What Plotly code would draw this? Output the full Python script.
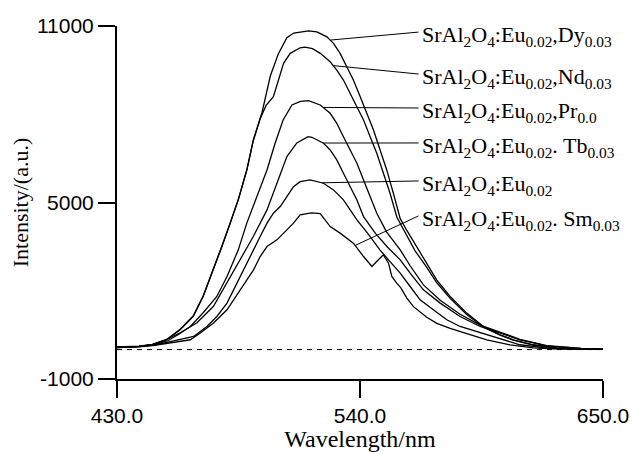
import numpy as np
import plotly.graph_objects as go

# Emission spectra of SrAl2O4:Eu phosphors with different co-dopants
wl_dy = [430, 440, 446, 452.6, 458.6, 464.5, 469.0, 473.6, 477.5, 481.3, 484.9, 488.8, 491.7, 495.6,
         499.4, 503.0, 506.9, 510.0, 513.0, 516.7, 520.5, 525.0, 528.0, 531.0, 534.0, 537.0, 540.1,
         543.1, 546.1, 549.1, 552.1, 555.1, 558.2, 561.2, 565.7, 570.2, 574.7, 580.8, 588.3, 595.9,
         603.4, 609.4, 618.4, 629.0, 640, 650]
int_dy = [80, 110, 170, 334, 674, 1126, 1805, 2711, 3503, 4307, 5088, 6107, 7126, 8042,
          9300, 10050, 10600, 10760, 10803, 10837, 10803, 10633, 10409, 10070, 9615, 9163, 8596,
          8032, 7465, 6786, 6107, 5316, 4450, 4050, 3504, 2939, 2372, 1805, 1240, 787,
          504, 334, 164, 51, 20, 10]

wl_nd = [430, 440, 446, 452.6, 458.6, 464.5, 469.0, 473.6, 477.5, 481.3, 484.9, 488.8, 491.7, 494.8,
         497.5, 500.8, 503.1, 505.4, 508.4, 512.9, 515.2, 518.5, 522.0, 526.5, 529.5, 532.5, 535.5,
         538.6, 541.6, 544.6, 547.6, 550.6, 553.6, 556.7, 558.2, 561, 565, 570, 574.7, 580.8, 588.3,
         595.9, 603.4, 609.4, 618.4, 629, 640, 650]
int_nd = [90, 120, 180, 350, 690, 1140, 1820, 2720, 3520, 4320, 5100, 6120, 7100, 7850,
          8300, 8600, 9163, 9730, 10070, 10260, 10280, 10230, 10070, 9785, 9503, 9163, 8711,
          8256, 7805, 7238, 6674, 5995, 5316, 4500, 4300, 3900, 3350, 2820, 2280, 1740, 1190,
          760, 490, 320, 150, 50, 20, 10]

wl_pr = [430, 440, 447, 453, 458, 463.2, 469.0, 475.2, 479.8, 484.9, 488.8, 493.3, 497.9, 501.6,
         505.2, 509.2, 513, 516.7, 522.0, 526.5, 529.5, 532.5, 535.5, 538.6, 541.6, 544.6, 547.6,
         552, 556, 558.2, 562.7, 568.7, 576.3, 585.3, 594.4, 603.4, 612.4, 625, 640, 650]
int_pr = [85, 110, 160, 300, 520, 786, 1251, 1805, 2484, 3391, 4307, 5200, 6107, 7024,
          7805, 8314, 8440, 8460, 8314, 8032, 7693, 7238, 6786, 6334, 5767, 5200, 4637,
          4000, 3600, 3390, 2850, 2200, 1680, 1200, 830, 590, 350, 130, 40, 15]

wl_tb = [430, 440, 446, 452, 458.6, 466.2, 473.6, 479.8, 485.8, 491.7, 497.9, 502.4, 506.9, 511.4,
         516.5, 518.2, 523.5, 526.5, 529.5, 532.5, 535.5, 538.6, 541.6, 547, 552.5, 558.2, 562.7,
         568.7, 576.3, 585.3, 594.4, 603.4, 612.4, 625, 640, 650]
int_tb = [85, 110, 170, 330, 572, 912, 1465, 2270, 3051, 3842, 4749, 5666, 6559, 7024,
          7238, 7217, 7014, 6786, 6447, 5995, 5540, 5088, 4521, 3950, 3480, 3051, 2600,
          2032, 1580, 1126, 786, 560, 334, 120, 40, 15]

wl_eu = [430, 440, 447, 455, 464.7, 470.7, 475.2, 479.8, 482.7, 485.8, 488.8, 491.8, 494.8, 497.9,
         500.8, 503.9, 506.9, 509.9, 512.9, 517.4, 523.5, 528.0, 532.5, 535.5, 538.6, 543.5, 549,
         553.5, 558.2, 562.7, 567.2, 573.2, 579.3, 585.3, 592.9, 601.9, 612.4, 625, 640, 650]
int_eu = [70, 100, 150, 280, 446, 786, 1126, 1580, 2032, 2484, 2939, 3390, 3842, 4297,
          4637, 4861, 5200, 5540, 5710, 5767, 5655, 5428, 5088, 4749, 4409, 3950, 3390,
          3000, 2599, 2144, 1693, 1353, 1014, 786, 616, 392, 164, 50, 15, 10]

wl_sm = [430, 440, 447, 455, 463.2, 467.7, 473.7, 479.8, 482.7, 485.8, 488.8, 491.8, 494.8, 497.9,
         502.4, 506.9, 509.9, 512.9, 518.0, 522.0, 526.5, 531.0, 537.0, 541.6, 545.4, 548.3, 550.6,
         552.9, 554.4, 556.7, 558.5, 561.2, 564.2, 570.2, 574.8, 580.8, 588.3, 597.4, 607.9, 618.5,
         630, 650]
int_sm = [70, 95, 140, 230, 334, 562, 902, 1353, 1693, 2032, 2372, 2711, 3163, 3503,
          3730, 4070, 4297, 4579, 4650, 4620, 4182, 3958, 3618, 3163, 2823, 3051, 3221,
          2939, 2484, 2250, 2100, 1750, 1460, 1100, 890, 720, 550, 330, 160, 60,
          20, 10]

labels = [
    "SrAl<sub>2</sub>O<sub>4</sub>:Eu<sub>0.02</sub>,Dy<sub>0.03</sub>",
    "SrAl<sub>2</sub>O<sub>4</sub>:Eu<sub>0.02</sub>,Nd<sub>0.03</sub>",
    "SrAl<sub>2</sub>O<sub>4</sub>:Eu<sub>0.02</sub>,Pr<sub>0.0</sub>",
    "SrAl<sub>2</sub>O<sub>4</sub>:Eu<sub>0.02</sub>. Tb<sub>0.03</sub>",
    "SrAl<sub>2</sub>O<sub>4</sub>:Eu<sub>0.02</sub>",
    "SrAl<sub>2</sub>O<sub>4</sub>:Eu<sub>0.02</sub>. Sm<sub>0.03</sub>",
]
x_ticks = [430.0, 540.0, 650.0]
y_ticks = [-1000, 5000, 11000]
baseline = [0, 0]

series = [(wl_dy, int_dy), (wl_nd, int_nd), (wl_pr, int_pr),
          (wl_tb, int_tb), (wl_eu, int_eu), (wl_sm, int_sm)]

# where each leader line touches its curve, and where its label starts
leader_wl = [526.5, 527.9, 523.3, 523.3, 522.7, 537.8]
label_wl = 566.5
label_int = [10793, 9367, 8212, 7024, 5733, 4545]

fig = go.Figure()
fig.add_trace(go.Scatter(x=[x_ticks[0], x_ticks[-1]], y=baseline, mode="lines",
                         line=dict(color="black", width=1, dash="5px,5px"),
                         hoverinfo="skip", showlegend=False))
for wl, inten in series:
    fig.add_trace(go.Scatter(x=wl, y=inten, mode="lines",
                             line=dict(color="black", width=1.3),
                             showlegend=False))

serif = "Liberation Serif, Times New Roman, serif"
for (wl, inten), text, lw, ly in zip(series, labels, leader_wl, label_int):
    # leader line from the curve to the label
    fig.add_trace(go.Scatter(x=[lw, label_wl], y=[float(np.interp(lw, wl, inten)), ly],
                             mode="lines", line=dict(color="black", width=1),
                             hoverinfo="skip", showlegend=False))
    fig.add_annotation(
        x=label_wl, y=ly, xref="x", yref="y", text=text, showarrow=False,
        xanchor="left", yanchor="middle", xshift=1, yshift=-4,
        font=dict(family=serif, size=22, color="black"),
    )

tick_font = dict(family="Liberation Sans, Arial, sans-serif", size=21, color="black")
fig.update_xaxes(range=[430, 650], tickvals=x_ticks, ticktext=[f"{v:.1f}" for v in x_ticks],
                 showline=True, linecolor="black", linewidth=2, ticks="outside",
                 ticklen=17, tickwidth=2, tickcolor="black", showgrid=False, zeroline=False,
                 tickfont=tick_font, automargin=False, ticklabeloverflow="allow",
                 title=dict(text="Wavelength/nm", font=dict(family=serif, size=24, color="black"),
                            standoff=11))
fig.update_yaxes(range=[-1000, 11000], tickvals=y_ticks, ticktext=[str(v) for v in y_ticks],
                 showline=True, linecolor="black", linewidth=2, ticks="outside",
                 ticklen=17, tickwidth=2, tickcolor="black", showgrid=False, zeroline=False,
                 tickfont=tick_font, automargin=False,
                 title=dict(text="Intensity/(a.u.)", font=dict(family=serif, size=22, color="black"),
                            standoff=2))
fig.update_layout(width=632, height=452, margin=dict(l=117, r=29, t=26, b=73),
                  paper_bgcolor="white", plot_bgcolor="white", showlegend=False)
fig.write_html("out.html")
